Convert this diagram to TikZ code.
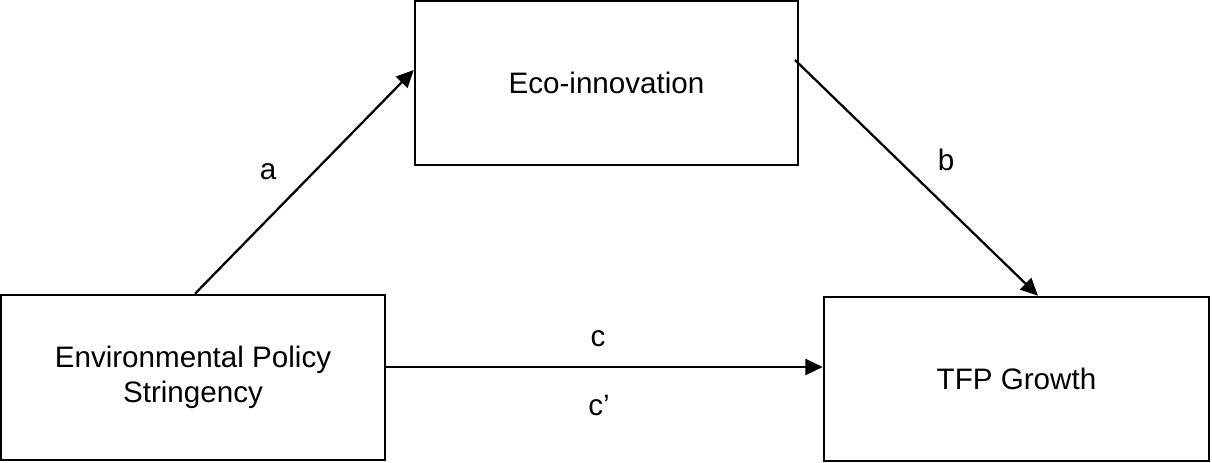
\documentclass[tikz,border=0pt]{standalone}
\usepackage{fontspec}
\setmainfont{Liberation Sans}
\usetikzlibrary{arrows.meta}
\begin{document}
\begin{tikzpicture}[x=0.75pt,y=-0.75pt,
  box/.style={draw=black,line width=1.9pt,fill=white,inner sep=0pt,align=center,
    font=\fontsize{22.2}{26.5}\selectfont},
  conn/.style={line width=1.7pt,-{Triangle[length=13pt,width=12pt]}},
  lbl/.style={font=\fontsize{22.2}{26.5}\selectfont,inner sep=0pt}]
\useasboundingbox (0,0) rectangle (1212,463);
\node[box,minimum width=383*0.75pt,minimum height=164*0.75pt] (eco) at (606.5,83) {Eco-innovation};
\node[box,minimum width=384*0.75pt,minimum height=165*0.75pt] (env) at (193,377.5) {Environmental Policy\\Stringency};
\node[box,minimum width=385*0.75pt,minimum height=164*0.75pt] (tfp) at (1016.5,379) {TFP Growth};
\coordinate (a0) at (env.north -| 195,0);
\coordinate (a1) at (eco.west |- 0,70);
\coordinate (b0) at (795,60);
\coordinate (b1) at (tfp.north -| 1038,0);
\coordinate (c0) at (env.east |- 0,367);
\coordinate (c1) at (tfp.west |- 0,367);
\draw[conn] (a0) -- (a1);
\draw[conn] (b0) -- (b1);
\draw[conn] (c0) -- (c1);
\node[lbl] (la) at (268,172) {a};
\node[lbl] (lb) at (946,160) {b};
\node[lbl] (lc) at (598,339) {c};
\node[lbl] (lc2) at (599,405) {c’};
\end{tikzpicture}
\end{document}
